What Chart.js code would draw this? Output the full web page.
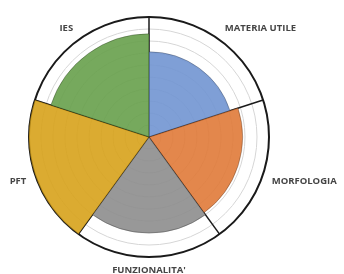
<!DOCTYPE html>
<html>
<head>
<meta charset="utf-8">
<script src="https://cdn.jsdelivr.net/npm/chart.js@4"></script>
<style>
  html, body { margin: 0; padding: 0; background: #fff; }
  #wrap { width: 344px; height: 274px; }
</style>
</head>
<body>
<div id="wrap"><canvas id="polar"></canvas></div>
<script>
const labels = ['MATERIA UTILE', 'MORFOLOGIA', "FUNZIONALITA'", 'PFT', 'IES'];
const values = [7.1, 7.8, 8, 10, 8.6];
const colors = ['#7396d2', '#e07c3c', '#8f8f8f', '#d8a31e', '#6aa14f'];
const scaleMax = 10;

// labels sit in the middle of each sector, outside the outer ring
const sectorLabels = {
  id: 'sectorLabels',
  afterDraw(chart) {
    const scale = chart.scales.r;
    const ctx = chart.ctx;
    const n = labels.length;
    const dist = scale.drawingArea + 9;
    ctx.save();
    ctx.font = 'bold 9.5px "Open Sans"';
    ctx.fillStyle = '#454545';
    labels.forEach((txt, i) => {
      const a = scale.getIndexAngle(i) + Math.PI / n - Math.PI / 2;
      const x = scale.xCenter + Math.cos(a) * dist;
      const y = scale.yCenter + Math.sin(a) * dist;
      const c = Math.cos(a), s = Math.sin(a);
      ctx.textAlign = Math.abs(c) < 0.1 ? 'center' : (c > 0 ? 'left' : 'right');
      ctx.textBaseline = Math.abs(s) < 0.1 ? 'middle' : (s > 0 ? 'top' : 'bottom');
      ctx.fillText(txt, x, y);
    });
    ctx.restore();
  }
};

new Chart(document.getElementById('polar'), {
  type: 'polarArea',
  data: {
    labels: labels,
    datasets: [{
      data: values,
      backgroundColor: colors.map(c => c + 'ea'),
      borderColor: 'rgba(0,0,0,0.25)',
      borderWidth: 1
    }]
  },
  options: {
    responsive: true,
    maintainAspectRatio: false,
    animation: false,
    layout: { padding: { top: 17, bottom: 17, left: 0, right: 46 } },
    plugins: {
      legend: { display: false },
      tooltip: { enabled: false }
    },
    scales: {
      r: {
        min: 0,
        max: scaleMax,
        ticks: { display: false, stepSize: 1 },
        pointLabels: { display: false },
        angleLines: { display: true, color: '#1a1a1a', lineWidth: 1.5 },
        grid: {
          circular: true,
          color: ctx => ctx.tick.value === scaleMax ? '#1a1a1a' : '#d6d6d6',
          lineWidth: ctx => ctx.tick.value === scaleMax ? 2 : 1
        }
      }
    }
  },
  plugins: [sectorLabels]
});
</script>
</body>
</html>
